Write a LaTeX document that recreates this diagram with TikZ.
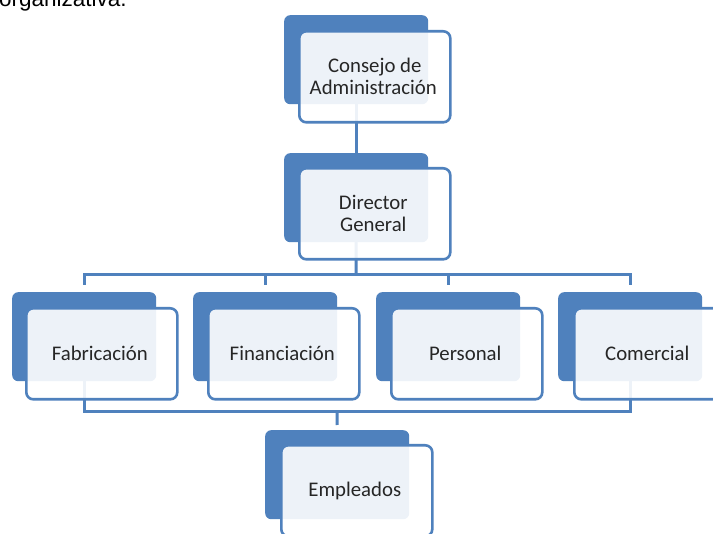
\documentclass[tikz,border=0pt]{standalone}
\usepackage{fontspec}
\setmainfont{Carlito}
\newfontfamily\arialf{Liberation Sans}
\definecolor{myblue}{HTML}{4F81BD}
\definecolor{txtgrey}{HTML}{262626}
\begin{document}
\begin{tikzpicture}[x=1pt,y=-1pt,
  backbox/.style={fill=myblue, rounded corners=6pt, minimum width=144pt, minimum height=89pt, anchor=north west, inner sep=0pt, draw=none},
  frontbox/.style={anchor=north west, fill=white, fill opacity=0.9, text opacity=1, draw=myblue, draw opacity=1, line width=2.6pt, rounded corners=7pt, minimum width=151pt, minimum height=91pt, inner sep=0pt, align=center, font=\fontsize{20.8}{22}\selectfont, text=txtgrey},
  conn/.style={draw=myblue, line width=3pt}]
\useasboundingbox (0,0) rectangle (713,534);
\clip (0,0) rectangle (713,534);
\fill[white] (0,0) rectangle (713,534);
\node[anchor=base west, inner sep=0pt, font=\arialf\fontsize{22.5}{26}\selectfont, text=black] (title) at (-1,7) {organizativa.};
% back boxes
\node[backbox] (cb) at (284,15) {};
\node[backbox] (db) at (284,153) {};
\node[backbox] (fabb) at (12,292) {};
\node[backbox] (finb) at (193,292) {};
\node[backbox] (perb) at (376,292) {};
\node[backbox] (comb) at (558,292) {};
\node[backbox] (empb) at (265,430) {};
% connectors
\coordinate (bus) at (356,275);
\coordinate (bus2) at (337,412);
\draw[conn] (cb.center) -- (cb.center |- db.north);
\draw[conn] (db.center) -- (bus);
\draw[conn] ([yshift=7pt]fabb.north) |- (bus) -| ([yshift=7pt]comb.north);
\draw[conn] (bus -| finb.north) -- ([yshift=7pt]finb.north);
\draw[conn] (bus -| perb.north) -- ([yshift=7pt]perb.north);
\draw[conn] (fabb.center) |- (bus2) -| (comb.center);
\draw[conn] (bus2) -- ([yshift=5pt]empb.north);
% front boxes
\node[frontbox] (c) at ([shift={(14,15)}]cb.north west) {Consejo de\\Administración\hspace*{3pt}};
\node[frontbox] (d) at ([shift={(14,14)}]db.north west) {Director\hspace*{3pt}\\General\hspace*{3pt}};
\node[frontbox] (fab) at ([shift={(13,15)}]fabb.north west) {Fabricación\hspace*{4pt}};
\node[frontbox] (fin) at ([shift={(14,15)}]finb.north west) {Financiación\hspace*{3pt}};
\node[frontbox] (per) at ([shift={(14,15)}]perb.north west) {Personal\hspace*{3pt}};
\node[frontbox] (com) at ([shift={(15,15)}]comb.north west) {Comercial\hspace*{5pt}};
\node[frontbox] (emp) at ([shift={(15,14)}]empb.north west) {Empleados\hspace*{4pt}};
\end{tikzpicture}
\end{document}
